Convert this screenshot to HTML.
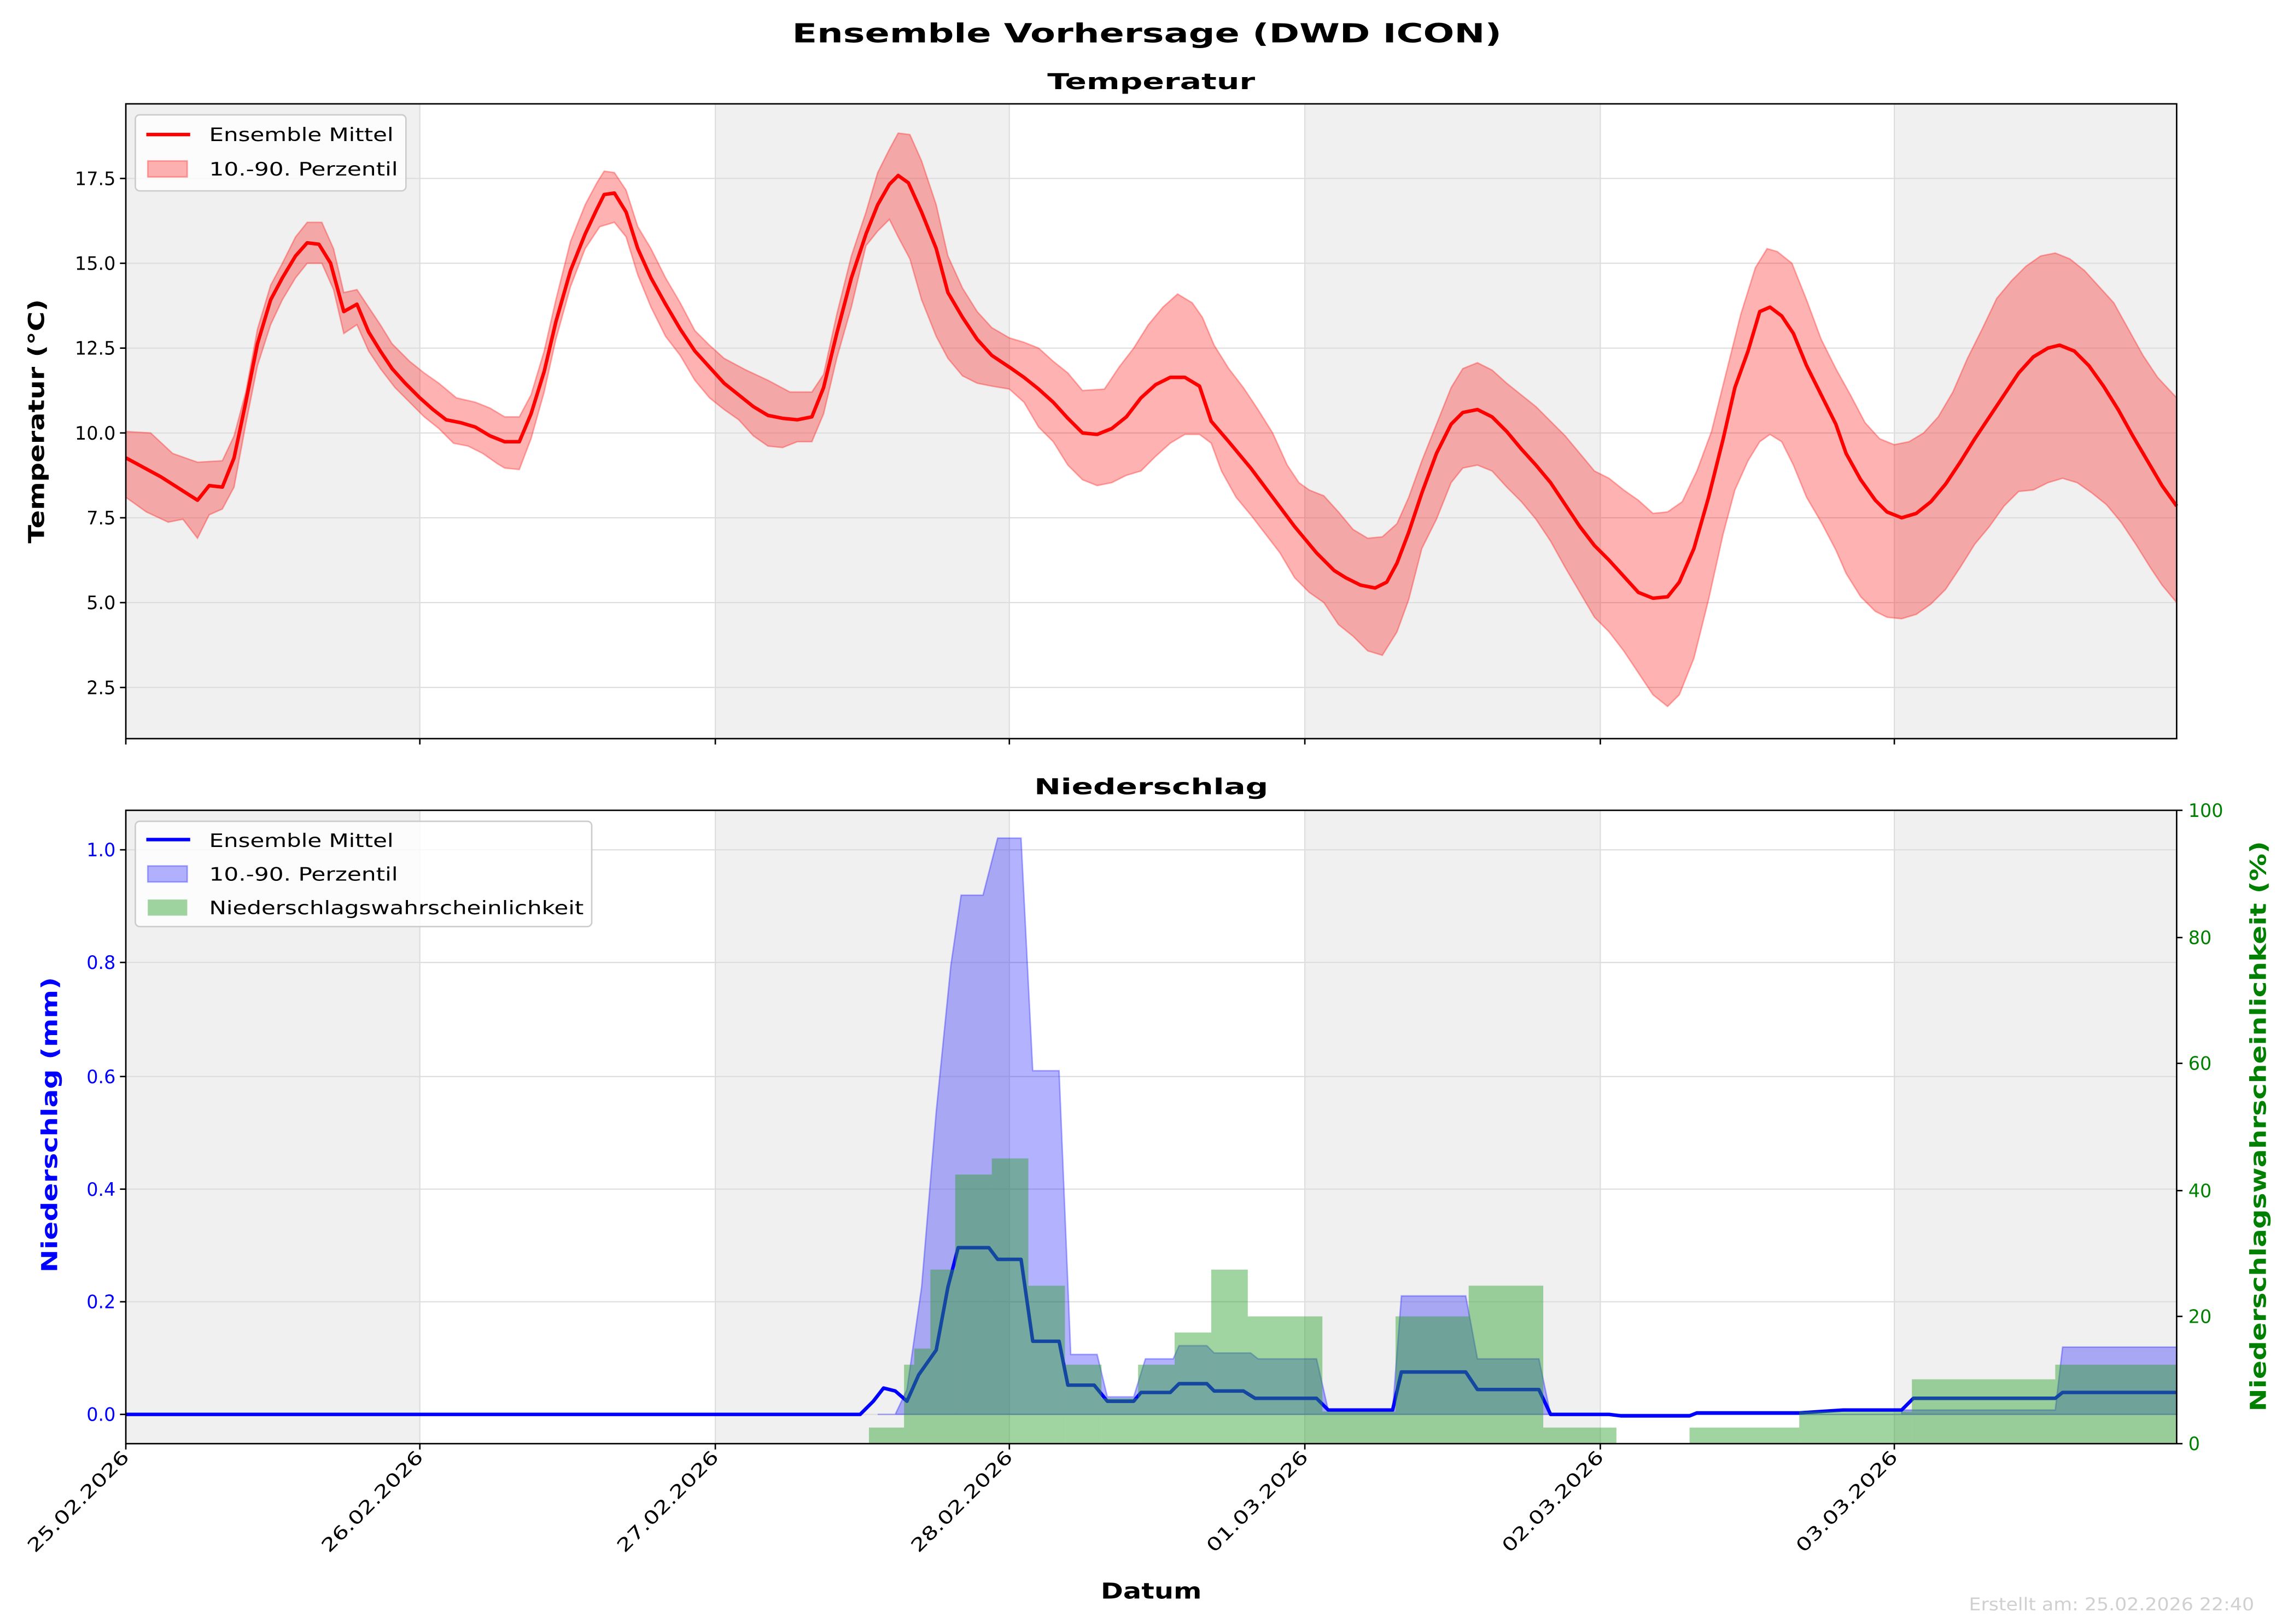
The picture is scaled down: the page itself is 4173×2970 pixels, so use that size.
<!DOCTYPE html>
<html><head><meta charset="utf-8"><style>
html,body{margin:0;padding:0;background:#fff}
svg{display:block}
text{font-family:"DejaVu Sans","Liberation Sans",sans-serif}
</style></head><body>
<svg width="4173" height="2970" viewBox="0 0 1560 1110.3" xmlns="http://www.w3.org/2000/svg">
<rect width="1560" height="1110.3" fill="#fff"/>
<text x="784" y="29" font-size="18" font-weight="bold" text-anchor="middle" textLength="485" lengthAdjust="spacingAndGlyphs">Ensemble Vorhersage (DWD ICON)</text>
<text x="787" y="61" font-size="15" font-weight="bold" text-anchor="middle" textLength="142" lengthAdjust="spacingAndGlyphs">Temperatur</text>
<text x="787" y="543" font-size="15" font-weight="bold" text-anchor="middle" textLength="160" lengthAdjust="spacingAndGlyphs">Niederschlag</text>

<!-- TOP PLOT -->
<g>
<rect x="86" y="71" width="201" height="434" fill="#f0f0f0"/>
<rect x="489" y="71" width="201" height="434" fill="#f0f0f0"/>
<rect x="892" y="71" width="202" height="434" fill="#f0f0f0"/>
<rect x="1295" y="71" width="193" height="434" fill="#f0f0f0"/>
<g stroke="#ddd" stroke-width="0.8">
<line x1="86" x2="1488" y1="470" y2="470"/><line x1="86" x2="1488" y1="412" y2="412"/><line x1="86" x2="1488" y1="354" y2="354"/><line x1="86" x2="1488" y1="296" y2="296"/><line x1="86" x2="1488" y1="238" y2="238"/><line x1="86" x2="1488" y1="180" y2="180"/><line x1="86" x2="1488" y1="122" y2="122"/>
<line x1="287" x2="287" y1="71" y2="505"/><line x1="489" x2="489" y1="71" y2="505"/><line x1="690" x2="690" y1="71" y2="505"/><line x1="892" x2="892" y1="71" y2="505"/><line x1="1094" x2="1094" y1="71" y2="505"/><line x1="1295" x2="1295" y1="71" y2="505"/>
</g>
<polygon fill="#ff0000" fill-opacity="0.3" stroke="#ff0000" stroke-opacity="0.3" stroke-width="1" points="86,295 103,296 118,310 135,316 152,315 160,298 168,268 176,225 185,195 193,180 202,162 210,152 220,152 228,170 235,200 244,198 252,210 260,222 268,235 280,247 290,255 300,262 312,272 325,275 335,279 345,285 355,285 363,270 372,240 380,205 390,165 400,140 408,125 413,117 420,118 428,130 436,155 445,170 455,190 465,207 475,226 485,236 495,245 510,253 525,260 540,268 555,268 563,256 572,215 582,175 592,145 600,118 608,102 614,91 622,92 630,110 640,140 648,175 658,197 668,213 678,224 690,231 700,234 710,238 720,247 730,255 740,267 755,266 765,251 775,238 785,222 795,210 805,201 815,207 822,217 830,236 840,252 850,265 860,280 870,296 880,318 888,330 895,335 905,339 915,350 925,362 935,368 945,367 955,358 963,340 972,315 982,290 992,265 1000,252 1010,248 1020,253 1030,262 1040,270 1050,278 1060,288 1070,298 1080,310 1090,322 1100,327 1110,335 1120,342 1130,351 1140,350 1150,343 1160,322 1170,295 1180,255 1190,215 1200,183 1208,170 1215,172 1225,180 1235,205 1245,232 1255,252 1265,270 1275,289 1285,300 1295,304 1305,302 1315,296 1325,285 1335,268 1345,245 1355,225 1365,204 1375,192 1385,182 1395,175 1405,173 1415,177 1425,185 1435,196 1445,207 1455,225 1465,243 1475,258 1488,272
1488,412 1478,400 1470,388 1460,372 1450,357 1440,345 1430,337 1420,330 1410,327 1400,330 1390,335 1380,336 1370,346 1360,360 1350,372 1340,388 1330,403 1320,413 1310,420 1300,423 1290,422 1282,418 1272,408 1262,392 1255,376 1245,357 1235,340 1226,318 1218,302 1210,297 1203,302 1195,315 1186,335 1178,365 1168,410 1158,450 1148,475 1140,483 1130,475 1120,460 1110,445 1100,432 1090,422 1080,405 1070,388 1060,370 1050,355 1040,343 1030,333 1020,322 1010,318 1000,320 992,330 982,355 972,375 963,410 955,432 945,448 935,445 925,435 915,427 905,412 895,405 885,395 875,378 865,365 855,352 845,340 835,322 828,303 820,297 810,297 800,303 790,312 780,322 770,325 760,330 750,332 740,328 730,318 720,302 710,292 700,275 690,266 678,264 668,262 658,257 648,245 640,230 630,205 622,177 614,162 608,150 600,158 592,168 582,210 572,245 563,283 555,302 545,302 535,306 525,305 515,298 505,287 495,280 485,272 475,260 465,243 455,230 445,210 436,188 428,162 420,152 410,155 400,170 390,196 380,232 372,268 363,300 355,321 345,320 340,317 330,310 320,305 310,303 300,293 290,285 280,275 270,265 260,252 252,240 244,222 235,228 228,198 220,180 210,180 202,190 193,205 185,222 176,250 168,290 160,333 152,348 143,352 135,368 125,355 115,357 100,350 86,340"/>
<polyline fill="none" stroke="#ff0000" stroke-width="2.4" stroke-linejoin="round" points="86,313 110,326 135,342 143,332 152,333 160,313 168,275 176,235 185,205 193,190 202,175 210,166 218,167 226,180 235,213 244,208 252,227 260,240 268,252 277,262 287,272 296,280 305,287 315,289 325,292 335,298 345,302 355,302 363,283 372,254 380,220 390,185 400,160 408,143 413,133 420,132 428,145 436,170 445,190 455,208 465,225 475,240 485,251 495,262 505,270 515,278 525,284 535,286 545,287 555,285 563,265 572,228 582,190 592,160 600,140 608,126 614,120 621,125 630,145 640,170 648,200 658,217 668,232 678,243 690,251 700,258 710,266 720,275 730,286 740,296 750,297 760,293 770,285 780,272 790,263 800,258 810,258 820,264 828,288 840,302 855,320 870,340 885,360 900,378 912,390 920,395 930,400 940,402 948,398 955,385 963,364 972,337 982,310 992,290 1000,282 1010,280 1020,285 1030,295 1040,307 1050,318 1060,330 1070,345 1080,360 1090,373 1100,383 1110,394 1120,405 1130,409 1140,408 1148,398 1158,375 1168,340 1178,300 1186,265 1195,240 1203,213 1210,210 1218,216 1226,228 1235,250 1245,270 1255,290 1262,310 1272,328 1282,342 1290,350 1300,354 1310,351 1320,343 1330,331 1340,316 1350,300 1360,285 1370,270 1380,255 1390,244 1400,238 1408,236 1418,240 1428,250 1438,264 1448,280 1458,298 1468,315 1478,332 1488,346"/>
<rect x="86" y="71" width="1402" height="434" fill="none" stroke="#000" stroke-width="1"/>
<g stroke="#000" stroke-width="1">
<line x1="82" x2="86" y1="470" y2="470"/><line x1="82" x2="86" y1="412" y2="412"/><line x1="82" x2="86" y1="354" y2="354"/><line x1="82" x2="86" y1="296" y2="296"/><line x1="82" x2="86" y1="238" y2="238"/><line x1="82" x2="86" y1="180" y2="180"/><line x1="82" x2="86" y1="122" y2="122"/>
<line x1="86" x2="86" y1="505" y2="509"/><line x1="287" x2="287" y1="505" y2="509"/><line x1="489" x2="489" y1="505" y2="509"/><line x1="690" x2="690" y1="505" y2="509"/><line x1="892" x2="892" y1="505" y2="509"/><line x1="1094" x2="1094" y1="505" y2="509"/><line x1="1295" x2="1295" y1="505" y2="509"/>
</g>
<g font-size="12.5" text-anchor="end">
<text x="79" y="474.5">2.5</text><text x="79" y="416.5">5.0</text><text x="79" y="358.5">7.5</text><text x="79" y="300.5">10.0</text><text x="79" y="242.5">12.5</text><text x="79" y="184.5">15.0</text><text x="79" y="126.5">17.5</text>
</g>
<text transform="translate(30,288) rotate(-90)" font-size="15" font-weight="bold" text-anchor="middle" textLength="167" lengthAdjust="spacingAndGlyphs">Temperatur (°C)</text>
<rect x="92.5" y="78.5" width="185" height="52" rx="3" fill="#fff" fill-opacity="0.8" stroke="#ccc" stroke-width="1"/>
<line x1="100" x2="130" y1="92" y2="92" stroke="#ff0000" stroke-width="2.4"/>
<rect x="101" y="110" width="27" height="11" fill="#ff0000" fill-opacity="0.3" stroke="#ff0000" stroke-opacity="0.3"/>
<text x="143" y="96.5" font-size="12.5" textLength="126" lengthAdjust="spacingAndGlyphs">Ensemble Mittel</text>
<text x="143" y="120" font-size="12.5" textLength="129" lengthAdjust="spacingAndGlyphs">10.-90. Perzentil</text>
</g>

<!-- BOTTOM PLOT -->
<g>
<rect x="86" y="554" width="201" height="433" fill="#f0f0f0"/>
<rect x="489" y="554" width="201" height="433" fill="#f0f0f0"/>
<rect x="892" y="554" width="202" height="433" fill="#f0f0f0"/>
<rect x="1295" y="554" width="193" height="433" fill="#f0f0f0"/>
<g stroke="#ddd" stroke-width="0.8">
<line x1="86" x2="1488" y1="967" y2="967"/><line x1="86" x2="1488" y1="890" y2="890"/><line x1="86" x2="1488" y1="813" y2="813"/><line x1="86" x2="1488" y1="736" y2="736"/><line x1="86" x2="1488" y1="658" y2="658"/><line x1="86" x2="1488" y1="581" y2="581"/>
<line x1="287" x2="287" y1="554" y2="987"/><line x1="489" x2="489" y1="554" y2="987"/><line x1="690" x2="690" y1="554" y2="987"/><line x1="892" x2="892" y1="554" y2="987"/><line x1="1094" x2="1094" y1="554" y2="987"/><line x1="1295" x2="1295" y1="554" y2="987"/>
</g>
<polygon fill="#0000ff" fill-opacity="0.3" stroke="#0000ff" stroke-opacity="0.3" stroke-width="1" points="600,967 612,967 620,950 630,880 640,760 650,660 657,612 672,612 682,573 698,573 706,732 724,732 732,926 750,926 757,955 775,955 783,929 802,929 806,920 825,920 830,925 855,925 860,929 900,929 908,964 952,964 958,886 1002,886 1010,929 1052,929 1060,967 1300,967 1300,964 1405,964 1410,921 1488,921 1488,967"/>
<polyline fill="none" stroke="#0000ff" stroke-width="2.4" stroke-linejoin="round" points="86,967 588,967 597,958 604,949 612,951 620,958 628,940 640,923 648,880 655,853 676,853 682,861 698,861 706,917 724,917 730,947 748,947 757,958 775,958 780,952 800,952 806,946 825,946 830,951 850,951 858,956 900,956 908,964 952,964 958,938 1002,938 1010,950 1052,950 1060,967 1100,967 1108,968 1155,968 1160,966 1230,966 1260,964 1300,964 1308,956 1405,956 1410,952 1488,952"/>
<g fill="#2ca02c" fill-opacity="0.45">
<rect x="594" y="976" width="24" height="11"/>
<rect x="618" y="933" width="7" height="54"/>
<rect x="625" y="922" width="11" height="65"/>
<rect x="636" y="868" width="17" height="119"/>
<rect x="653" y="803" width="25" height="184"/>
<rect x="678" y="792" width="25" height="195"/>
<rect x="703" y="879" width="25" height="108"/>
<rect x="728" y="933" width="25" height="54"/>
<rect x="753" y="956" width="25" height="31"/>
<rect x="778" y="933" width="25" height="54"/>
<rect x="803" y="911" width="25" height="76"/>
<rect x="828" y="868" width="25" height="119"/>
<rect x="853" y="900" width="51" height="87"/>
<rect x="904" y="965" width="50" height="22"/>
<rect x="954" y="900" width="50" height="87"/>
<rect x="1004" y="879" width="51" height="108"/>
<rect x="1055" y="976" width="50" height="11"/>
<rect x="1155" y="976" width="75" height="11"/>
<rect x="1230" y="965" width="77" height="22"/>
<rect x="1307" y="943" width="98" height="44"/>
<rect x="1405" y="933" width="83" height="54"/>
</g>
<rect x="86" y="554" width="1402" height="433" fill="none" stroke="#000" stroke-width="1"/>
<g stroke="#000" stroke-width="1">
<line x1="82" x2="86" y1="967" y2="967"/><line x1="82" x2="86" y1="890" y2="890"/><line x1="82" x2="86" y1="813" y2="813"/><line x1="82" x2="86" y1="736" y2="736"/><line x1="82" x2="86" y1="658" y2="658"/><line x1="82" x2="86" y1="581" y2="581"/>
<line x1="1488" x2="1492" y1="987" y2="987"/><line x1="1488" x2="1492" y1="900" y2="900"/><line x1="1488" x2="1492" y1="814" y2="814"/><line x1="1488" x2="1492" y1="727" y2="727"/><line x1="1488" x2="1492" y1="641" y2="641"/><line x1="1488" x2="1492" y1="554" y2="554"/>
<line x1="86" x2="86" y1="987" y2="991"/><line x1="287" x2="287" y1="987" y2="991"/><line x1="489" x2="489" y1="987" y2="991"/><line x1="690" x2="690" y1="987" y2="991"/><line x1="892" x2="892" y1="987" y2="991"/><line x1="1094" x2="1094" y1="987" y2="991"/><line x1="1295" x2="1295" y1="987" y2="991"/>
</g>
<g font-size="12.5" text-anchor="end" fill="#0000ff">
<text x="79" y="971.5">0.0</text><text x="79" y="894.5">0.2</text><text x="79" y="817.5">0.4</text><text x="79" y="740.5">0.6</text><text x="79" y="662.5">0.8</text><text x="79" y="585.5">1.0</text>
</g>
<g font-size="12.5" fill="#008000">
<text x="1496" y="991.5">0</text><text x="1496" y="904.5">20</text><text x="1496" y="818.5">40</text><text x="1496" y="731.5">60</text><text x="1496" y="645.5">80</text><text x="1496" y="558.5">100</text>
</g>
<text transform="translate(39,769) rotate(-90)" font-size="15" font-weight="bold" text-anchor="middle" fill="#0000ff" textLength="202" lengthAdjust="spacingAndGlyphs">Niederschlag (mm)</text>
<text transform="translate(1549,770) rotate(-90)" font-size="15" font-weight="bold" text-anchor="middle" fill="#008000" textLength="390" lengthAdjust="spacingAndGlyphs">Niederschlagswahrscheinlichkeit (%)</text>
<rect x="92.5" y="561.5" width="312" height="72" rx="3" fill="#fff" fill-opacity="0.8" stroke="#ccc" stroke-width="1"/>
<line x1="100" x2="130" y1="574" y2="574" stroke="#0000ff" stroke-width="2.4"/>
<rect x="101" y="592" width="27" height="11" fill="#0000ff" fill-opacity="0.3" stroke="#0000ff" stroke-opacity="0.3"/>
<rect x="101" y="615" width="27" height="11" fill="#2ca02c" fill-opacity="0.45"/>
<text x="143" y="579" font-size="12.5" textLength="126" lengthAdjust="spacingAndGlyphs">Ensemble Mittel</text>
<text x="143" y="602" font-size="12.5" textLength="129" lengthAdjust="spacingAndGlyphs">10.-90. Perzentil</text>
<text x="143" y="625" font-size="12.5" textLength="256" lengthAdjust="spacingAndGlyphs">Niederschlagswahrscheinlichkeit</text>
</g>

<!-- X labels -->
<g font-size="12.5" text-anchor="end">
<text transform="translate(89,997) rotate(-45)" textLength="92" lengthAdjust="spacingAndGlyphs">25.02.2026</text>
<text transform="translate(290,997) rotate(-45)" textLength="92" lengthAdjust="spacingAndGlyphs">26.02.2026</text>
<text transform="translate(492,997) rotate(-45)" textLength="92" lengthAdjust="spacingAndGlyphs">27.02.2026</text>
<text transform="translate(693,997) rotate(-45)" textLength="92" lengthAdjust="spacingAndGlyphs">28.02.2026</text>
<text transform="translate(895,997) rotate(-45)" textLength="92" lengthAdjust="spacingAndGlyphs">01.03.2026</text>
<text transform="translate(1097,997) rotate(-45)" textLength="92" lengthAdjust="spacingAndGlyphs">02.03.2026</text>
<text transform="translate(1298,997) rotate(-45)" textLength="92" lengthAdjust="spacingAndGlyphs">03.03.2026</text>
</g>
<text x="787" y="1093" font-size="15" font-weight="bold" text-anchor="middle" textLength="69" lengthAdjust="spacingAndGlyphs">Datum</text>
<text x="1541" y="1101" font-size="12" fill="#d0d0d0" text-anchor="end" textLength="195" lengthAdjust="spacingAndGlyphs">Erstellt am: 25.02.2026 22:40</text>
</svg>
</body></html>
